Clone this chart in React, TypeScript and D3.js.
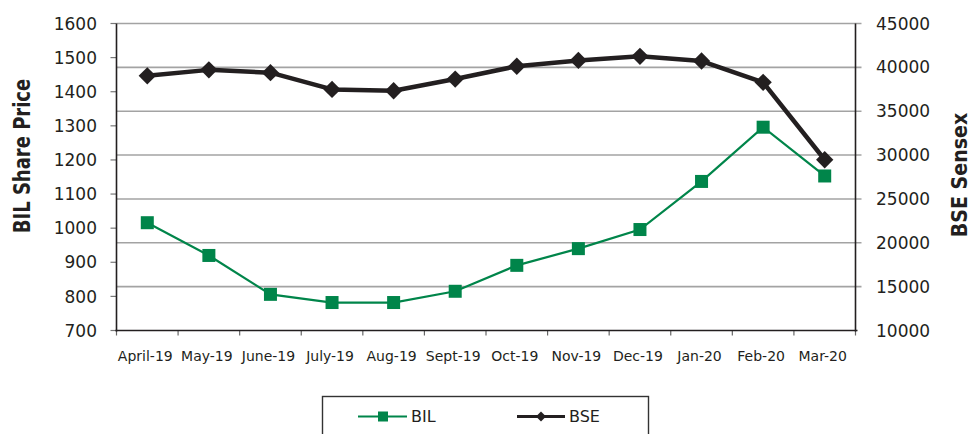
import { useEffect, useRef } from "react";
import * as d3 from "d3";

const MONTHS = ["April-19", "May-19", "June-19", "July-19", "Aug-19", "Sept-19", "Oct-19", "Nov-19", "Dec-19", "Jan-20", "Feb-20", "Mar-20"];
const BIL = [1016, 920, 806, 782, 782, 815, 891, 940, 996, 1137, 1296, 1153];
const BSE = [39032, 39714, 39395, 37481, 37333, 38667, 40129, 40794, 41254, 40723, 38297, 29468];
const LEFT_TICKS = [700, 800, 900, 1000, 1100, 1200, 1300, 1400, 1500, 1600];
const RIGHT_TICKS = [10000, 15000, 20000, 25000, 30000, 35000, 40000, 45000];

const GREEN = "#00854a";
const BLACK = "#231f20";
const GRID = "#a3a3a3";
const FONT = "DejaVu Sans, sans-serif";

const W = 972, H = 434;
const M = { left: 116.5, right: 855.5, top: 23.5, bottom: 330.5 };

export default function App() {
  const svgRef = useRef<SVGSVGElement | null>(null);

  useEffect(() => {
    if (!svgRef.current) return;
    const svg = d3.select(svgRef.current);
    svg.selectAll("*").remove();

    const x = d3.scaleBand<string>().domain(MONTHS).range([M.left, M.right]).padding(0);
    const yL = d3.scaleLinear().domain([700, 1600]).range([M.bottom, M.top]);
    const yR = d3.scaleLinear().domain([10000, 45000]).range([M.bottom, M.top]);
    const cx = (m: string) => (x(m) as number) + x.bandwidth() / 2;

    svg.append("rect").attr("width", W).attr("height", H).attr("fill", "#fff");

    // grid lines follow the right-hand scale
    svg.append("g").selectAll("line").data(RIGHT_TICKS.slice(1)).enter().append("line")
      .attr("x1", M.left).attr("x2", M.right + 6)
      .attr("y1", d => yR(d)).attr("y2", d => yR(d))
      .attr("stroke", GRID).attr("stroke-width", 1.6);

    // left ticks
    svg.append("g").selectAll("line").data(LEFT_TICKS).enter().append("line")
      .attr("x1", M.left - 6).attr("x2", M.left)
      .attr("y1", d => yL(d)).attr("y2", d => yL(d))
      .attr("stroke", "#777").attr("stroke-width", 1.2);
    svg.append("g").selectAll("text").data(LEFT_TICKS).enter().append("text")
      .attr("x", 97).attr("y", d => yL(d)).attr("dy", "0.36em")
      .attr("text-anchor", "end").attr("font-family", FONT).attr("font-size", 17)
      .attr("fill", BLACK).text(d => d);

    // right labels
    svg.append("g").selectAll("text").data(RIGHT_TICKS).enter().append("text")
      .attr("x", 876).attr("y", d => yR(d)).attr("dy", "0.36em")
      .attr("text-anchor", "start").attr("font-family", FONT).attr("font-size", 17)
      .attr("fill", BLACK).text(d => d);

    // bottom ticks at band edges
    const edges = MONTHS.map(m => x(m) as number).concat([M.right]);
    svg.append("g").selectAll("line").data(edges).enter().append("line")
      .attr("x1", d => d).attr("x2", d => d)
      .attr("y1", M.bottom).attr("y2", M.bottom + 5)
      .attr("stroke", "#666").attr("stroke-width", 1.2);
    svg.append("g").selectAll("text").data(MONTHS).enter().append("text")
      .attr("x", d => cx(d) - 2).attr("y", 361)
      .attr("text-anchor", "middle").attr("font-family", FONT).attr("font-size", 14)
      .attr("fill", BLACK).text(d => d);

    // axis lines
    svg.append("line").attr("x1", M.left).attr("x2", M.left).attr("y1", M.top).attr("y2", M.bottom + 1)
      .attr("stroke", BLACK).attr("stroke-width", 1.6);
    svg.append("line").attr("x1", M.right).attr("x2", M.right).attr("y1", M.top).attr("y2", M.bottom + 1)
      .attr("stroke", BLACK).attr("stroke-width", 1.6);
    svg.append("line").attr("x1", M.left - 1).attr("x2", M.right + 2).attr("y1", M.bottom).attr("y2", M.bottom)
      .attr("stroke", BLACK).attr("stroke-width", 1.6);

    // axis titles
    svg.append("text")
      .attr("transform", `translate(30,156) scale(1.3,1) rotate(-90)`)
      .attr("text-anchor", "middle").attr("font-family", FONT).attr("font-weight", "bold")
      .attr("font-size", 18).attr("fill", BLACK).text("BIL Share Price");
    svg.append("text")
      .attr("transform", `translate(967,175) scale(1.15,1) rotate(-90)`)
      .attr("text-anchor", "middle").attr("font-family", FONT).attr("font-weight", "bold")
      .attr("font-size", 19).attr("fill", BLACK).text("BSE Sensex");

    // BIL series
    const bilLine = d3.line<number>().x((_, i) => cx(MONTHS[i])).y(d => yL(d));
    svg.append("path").datum(BIL).attr("d", bilLine)
      .attr("fill", "none").attr("stroke", GREEN).attr("stroke-width", 2.2);
    svg.append("g").selectAll("rect").data(BIL).enter().append("rect")
      .attr("x", (_, i) => cx(MONTHS[i]) - 6.5).attr("y", d => yL(d) - 6.5)
      .attr("width", 13).attr("height", 13).attr("fill", GREEN);

    // BSE series
    const bseLine = d3.line<number>().x((_, i) => cx(MONTHS[i])).y(d => yR(d));
    svg.append("path").datum(BSE).attr("d", bseLine)
      .attr("fill", "none").attr("stroke", BLACK).attr("stroke-width", 4.5).attr("stroke-linejoin", "round");
    const diamond = d3.symbol().type(d3.symbolSquare).size(150);
    svg.append("g").selectAll("path.bse").data(BSE).enter().append("path")
      .attr("d", diamond())
      .attr("transform", (d, i) => `translate(${cx(MONTHS[i])},${yR(d)}) rotate(45)`)
      .attr("fill", BLACK);

    // legend
    const lg = svg.append("g");
    lg.append("rect").attr("x", 322.5).attr("y", 396.5).attr("width", 326).attr("height", 60)
      .attr("fill", "#fff").attr("stroke", "#333").attr("stroke-width", 1.4);
    lg.append("line").attr("x1", 358).attr("x2", 407).attr("y1", 416.5).attr("y2", 416.5)
      .attr("stroke", GREEN).attr("stroke-width", 2.2);
    lg.append("rect").attr("x", 378).attr("y", 411.5).attr("width", 10).attr("height", 10).attr("fill", GREEN);
    lg.append("text").attr("x", 411).attr("y", 416.5).attr("dy", "0.36em")
      .attr("font-family", FONT).attr("font-size", 16).attr("fill", BLACK).text("BIL");
    lg.append("line").attr("x1", 517).attr("x2", 565).attr("y1", 416.5).attr("y2", 416.5)
      .attr("stroke", BLACK).attr("stroke-width", 3);
    lg.append("path").attr("d", d3.symbol().type(d3.symbolSquare).size(50)())
      .attr("transform", "translate(541,416.5) rotate(45)").attr("fill", BLACK);
    lg.append("text").attr("x", 569).attr("y", 416.5).attr("dy", "0.36em")
      .attr("font-family", FONT).attr("font-size", 16).attr("fill", BLACK).text("BSE");
  }, []);

  return (
    <div style={{ position: "absolute", left: 0, top: 0, width: W, height: H, overflow: "hidden", background: "#fff" }}>
      <svg ref={svgRef} width={W} height={H} style={{ display: "block" }} />
    </div>
  );
}
